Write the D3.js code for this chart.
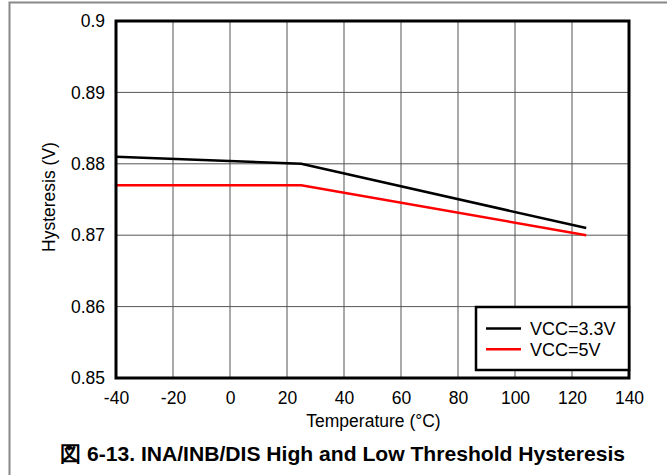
<!DOCTYPE html>
<html><head><meta charset="utf-8">
<script src="https://cdn.jsdelivr.net/npm/d3@7"></script>
<style>body{margin:0;background:#fff}svg{display:block;font-family:"Liberation Sans",Arial,sans-serif}</style>
</head><body><svg id="c" width="667" height="475"></svg>
<script>
const xTicks = [-40,-20,0,20,40,60,80,100,120,140];
const xTickLabels = ["-40","-20","0","20","40","60","80","100","120","140"];
const yTicks = [0.85,0.86,0.87,0.88,0.89,0.9];
const yTickLabels = ["0.85","0.86","0.87","0.88","0.89","0.9"];
const temps = [-40, 25, 125];
const vcc33 = [0.881, 0.880, 0.871];
const vcc5 = [0.877, 0.877, 0.870];
const seriesNames = ["VCC=3.3V","VCC=5V"];
const seriesColors = ["#000000","#ff0000"];

const svg = d3.select("#c");
const L=116,R=629,T=21,B=378;
const x = d3.scaleLinear().domain([-40,140]).range([L,R]);
const y = d3.scaleLinear().domain([0.85,0.9]).range([B,T]);

// outer frame
svg.append("path").attr("d","M9.5,475 V2.5 H667").attr("fill","none").attr("stroke","#888").attr("stroke-width",2);

// grid
svg.append("g").selectAll("line").data(xTicks.slice(1,-1)).join("line")
  .attr("x1",d=>x(d)).attr("x2",d=>x(d)).attr("y1",T).attr("y2",B)
  .attr("stroke","#555").attr("stroke-width",1);
svg.append("g").selectAll("line").data(yTicks.slice(1,-1)).join("line")
  .attr("x1",L).attr("x2",R).attr("y1",d=>y(d)).attr("y2",d=>y(d))
  .attr("stroke","#555").attr("stroke-width",1);

// axes labels via d3 axes
const xa = svg.append("g").attr("transform",`translate(0,${B})`)
  .call(d3.axisBottom(x).tickValues(xTicks).tickSize(0).tickPadding(14).tickFormat((d,i)=>xTickLabels[i]));
const ya = svg.append("g").attr("transform",`translate(${L},0)`)
  .call(d3.axisLeft(y).tickValues(yTicks).tickSize(0).tickPadding(11).tickFormat((d,i)=>yTickLabels[i]));
[xa,ya].forEach(a=>{a.select(".domain").remove();a.selectAll("text").attr("font-size",17.5).attr("fill","#000").attr("font-family","Liberation Sans, Arial, sans-serif");});

// lines
const line = d3.line().x((d,i)=>x(temps[i])).y(d=>y(d));
[vcc33,vcc5].forEach((s,k)=>{
  svg.append("path").attr("d",line(s)).attr("fill","none").attr("stroke",seriesColors[k]).attr("stroke-width",2.5);
});

// plot border
svg.append("rect").attr("x",L).attr("y",T).attr("width",R-L).attr("height",B-T)
  .attr("fill","none").attr("stroke","#000").attr("stroke-width",3);

// legend
const lg = svg.append("g");
lg.append("rect").attr("x",476).attr("y",307).attr("width",153).attr("height",63).attr("fill","#fff").attr("stroke","#000").attr("stroke-width",2.5);
seriesNames.forEach((n,i)=>{
  const yy=328.5+i*20.7;
  lg.append("line").attr("x1",486).attr("x2",521).attr("y1",yy).attr("y2",yy).attr("stroke",seriesColors[i]).attr("stroke-width",2.5);
  lg.append("text").attr("x",530).attr("y",yy+6.5).attr("font-size",18).text(n);
});

// axis titles
svg.append("text").attr("x",373.5).attr("y",427).attr("text-anchor","middle").attr("font-size",17.5).text("Temperature (°C)");
svg.append("text").attr("transform","translate(55,197) rotate(-90)").attr("text-anchor","middle").attr("font-size",17.5).text("Hysteresis (V)");
svg.append("text").attr("x",60).attr("y",461).attr("font-size",21).attr("font-weight","bold")
  .attr("textLength",565).attr("lengthAdjust","spacingAndGlyphs")
  .text("図 6-13. INA/INB/DIS High and Low Threshold Hysteresis");
</script></body></html>
